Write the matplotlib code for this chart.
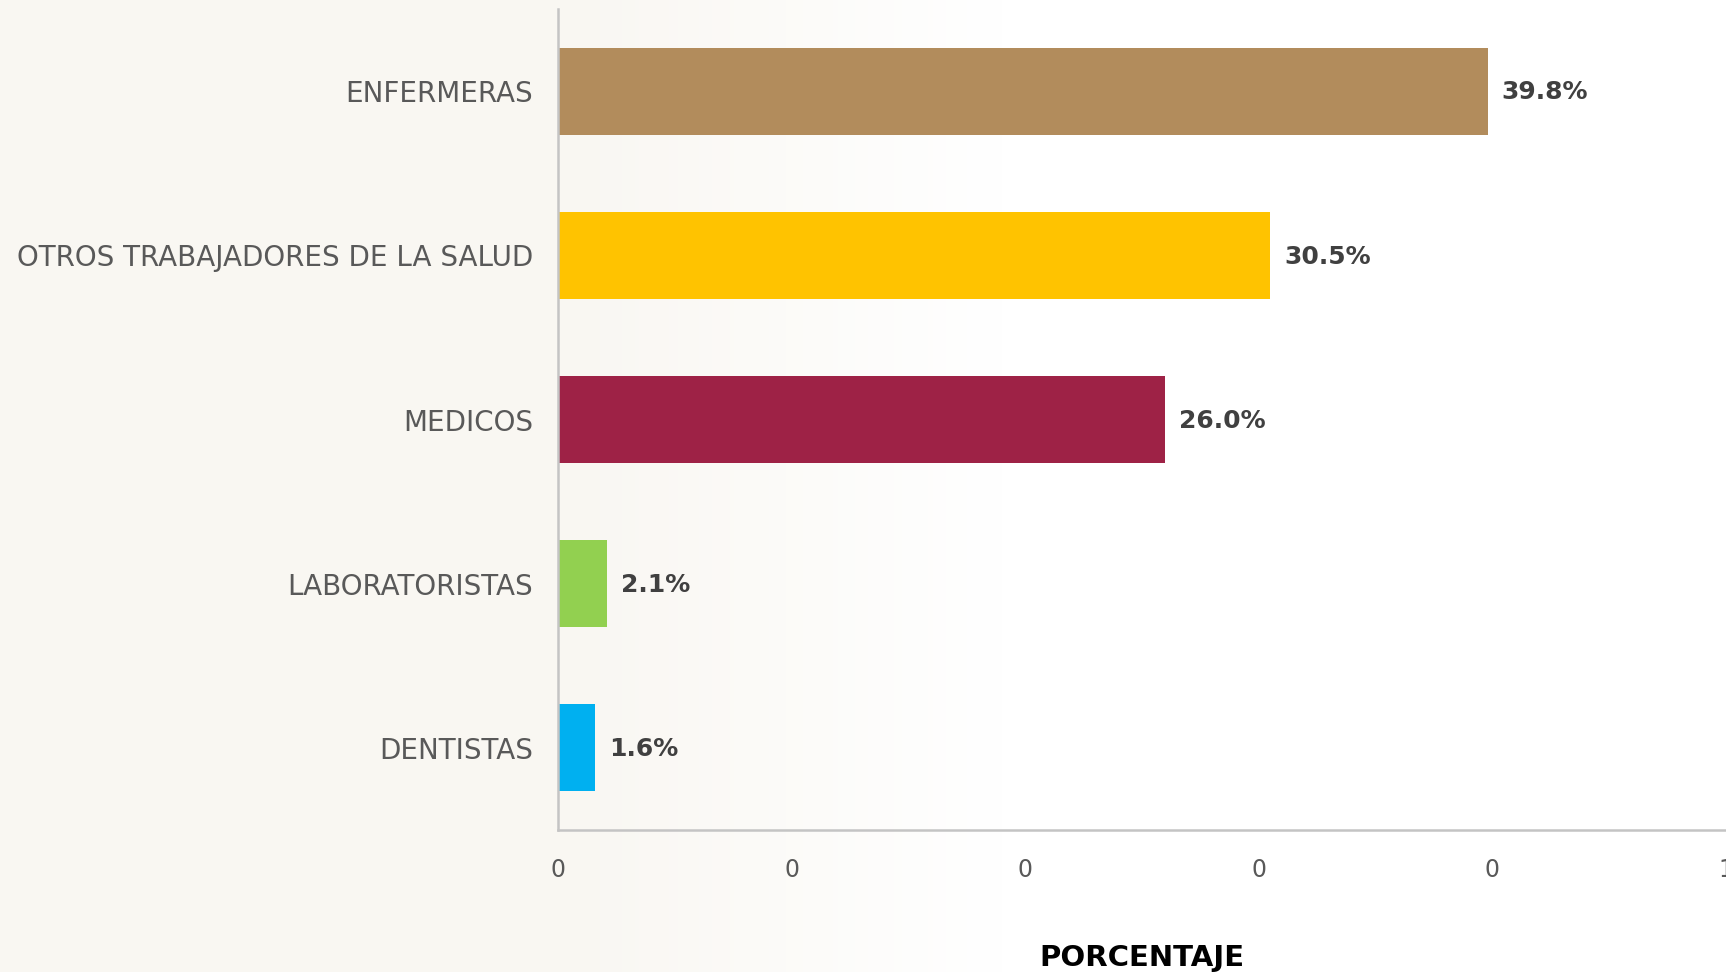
import numpy as np
import matplotlib.pyplot as plt

categorias = ["ENFERMERAS", "OTROS TRABAJADORES DE LA SALUD", "MEDICOS",
              "LABORATORISTAS", "DENTISTAS"]
porcentajes = [0.398, 0.305, 0.260, 0.021, 0.016]
colores = ["#B28C5C", "#FFC300", "#9E2246", "#92D050", "#00B0F0"]
ticks_x = [0.0, 0.1, 0.2, 0.3, 0.4, 0.5]
etiquetas_x = ["0", "0", "0", "0", "0", "1"]

plt.rcParams['font.family'] = ['DejaVu Sans']

fig = plt.figure(figsize=(17.26, 9.72), dpi=100)
fig.patch.set_facecolor("white")

# fondo: tono beige a la izquierda que se desvanece
bg = fig.add_axes([0, 0, 1, 1], zorder=-1)
w = 400
t = np.linspace(0, 1, w)
alpha = np.clip((0.58 - t) / 0.25, 0, 1)
img = np.ones((1, w, 4))
img[..., 0] = 0xF9 / 255
img[..., 1] = 0xF7 / 255
img[..., 2] = 0xF2 / 255
img[0, :, 3] = alpha
bg.imshow(img, aspect="auto", extent=[0, 1, 0, 1])
bg.axis("off")

ax = fig.add_axes([558 / 1726, 142 / 972, 1168 / 1726, 821 / 972])
ax.set_facecolor("none")
y = np.arange(len(categorias))
bars = ax.barh(y, porcentajes, height=0.53, color=colores)
ax.set_ylim(len(categorias) - 0.5, -0.5)
ax.set_xlim(0, 0.5)
ax.set_yticks(y)
ax.set_yticklabels(categorias, fontsize=20, color="#595959")
ax.set_xticks(ticks_x)
ax.set_xticklabels(etiquetas_x, fontsize=17, color="#595959")
ax.tick_params(axis="y", length=0, pad=18)
ax.tick_params(axis="x", length=0, pad=20)

for s in ["top", "right"]:
    ax.spines[s].set_visible(False)
for s in ["left", "bottom"]:
    ax.spines[s].set_color("#c4c4c4")
    ax.spines[s].set_linewidth(1.8)

for b, v in zip(bars, porcentajes):
    ax.annotate(f"{v * 100:.1f}%", (b.get_width(), b.get_y() + b.get_height() / 2),
                xytext=(10, -1), textcoords="offset points", va="center", ha="left",
                fontsize=18, fontweight="bold", color="#404040")

fig.text(1142 / 1726, 1 - 958 / 972, "PORCENTAJE", ha="center", va="center",
         fontsize=21, fontweight="bold", color="black")

fig.savefig("out.png", dpi=100)
